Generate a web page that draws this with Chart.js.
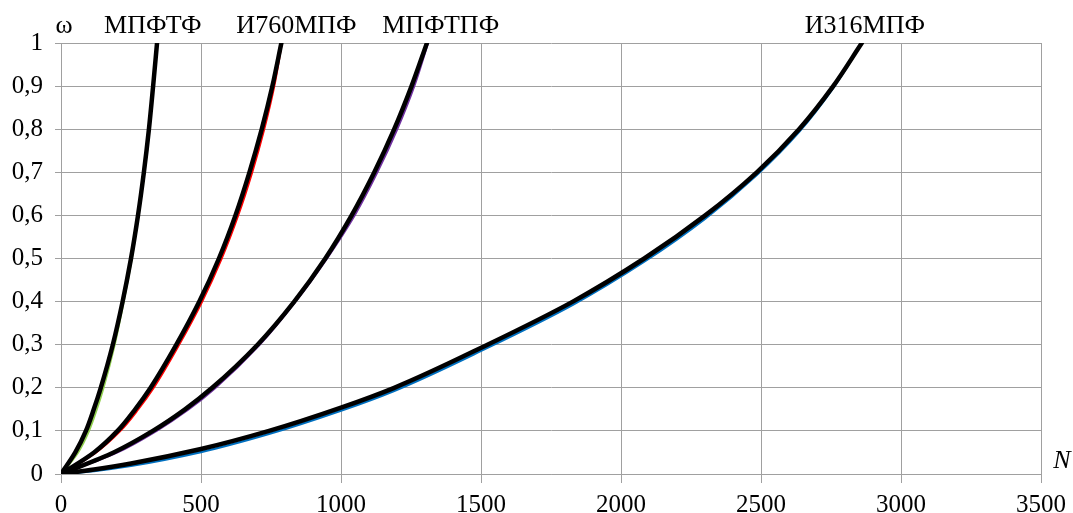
<!DOCTYPE html>
<html>
<head>
<meta charset="utf-8">
<script src="https://cdn.jsdelivr.net/npm/chart.js@4"></script>
<style>
  html, body { margin: 0; padding: 0; background: #fff; }
  #wrap { width: 1073px; height: 513px; }
</style>
</head>
<body>
<div id="wrap"><canvas id="c" width="1073" height="513"></canvas></div>
<script>
// ---- data ----
const xTickLabels = ['0', '500', '1000', '1500', '2000', '2500', '3000', '3500'];
const yTickLabels = ['0', '0,1', '0,2', '0,3', '0,4', '0,5', '0,6', '0,7', '0,8', '0,9', '1'];

const seriesNames = ['МПФТФ', 'И760МПФ', 'МПФТПФ', 'И316МПФ'];

// ω levels used for the three steep curves
const omegaLevels = [0, 0.05, 0.1, 0.15, 0.2, 0.3, 0.4, 0.5, 0.6, 0.7, 0.8, 0.9, 1.0];

// black (fitted) curves: N read at each ω level
const mpftfN  = [0, 51, 89, 117, 142, 185, 220, 250, 275, 296, 314, 329, 343];
const i760N   = [0, 118, 202, 265, 320, 412, 494, 564, 623, 673, 717, 755, 787];
const mpftpfN = [0, 188, 328, 443, 540, 702, 833, 944, 1038, 1119, 1190, 1252, 1307];

// shallow curve: own N and ω readings
const i316N   = [0, 118, 250, 500, 743, 1000, 1190, 1523, 1828, 2083, 2301, 2485, 2636, 2758, 2860];
const i316W   = [0, 0.0104, 0.0244, 0.058, 0.1, 0.154, 0.2, 0.3, 0.4, 0.5, 0.6, 0.7, 0.8, 0.9, 1.0];

// coloured (measured) curves lying just beside the black ones
const mpftfN2  = [0, 60, 99, 127, 151, 191, 223, 252, 276, 297, 315, 329, 343];
const i760N2   = [0, 124, 211, 275, 330, 421, 503, 573, 632, 682, 725, 761, 788];
const mpftpfN2 = [0, 200, 340, 455, 551, 709, 837, 949, 1048, 1129, 1200, 1261, 1310];
const i316W2   = [0, 0.0072, 0.0190, 0.051, 0.093, 0.147, 0.193, 0.293, 0.393, 0.493, 0.593, 0.694, 0.794, 0.896, 1.0];

const colours = ['#92d050', '#ff0000', '#7030a0', '#0070c0'];

// label anchors (N positions of the curve names along the top)
const topLabelN = [328, 841, 1356, 2871];
const yAxisTitle = 'ω';
const xAxisTitle = 'N';

// ---- build datasets ----
function pts(ns, ws) { return ns.map((n, i) => ({ x: n, y: ws[i] })); }
const blackSets = [
  pts(mpftfN, omegaLevels), pts(i760N, omegaLevels), pts(mpftpfN, omegaLevels), pts(i316N, i316W)
];
const colourSets = [
  pts(mpftfN2, omegaLevels), pts(i760N2, omegaLevels), pts(mpftpfN2, omegaLevels), pts(i316N, i316W2)
];

const datasets = [];
blackSets.forEach((d, i) => datasets.push({
  label: seriesNames[i], data: d, borderColor: '#000', borderWidth: 4.5,
  pointRadius: 0, cubicInterpolationMode: 'monotone', order: 0, borderCapStyle: 'round'
}));
colourSets.forEach((d, i) => datasets.push({
  label: seriesNames[i] + ' (2)', data: d, borderColor: colours[i], borderWidth: 2.5,
  pointRadius: 0, cubicInterpolationMode: 'monotone', order: 1
}));

const FONT = 'Liberation Serif, Times New Roman, serif';

const labelPlugin = {
  id: 'labels',
  afterDraw(chart) {
    const ctx = chart.ctx;
    const xs = chart.scales.x;
    ctx.save();
    ctx.fillStyle = '#000';
    ctx.textBaseline = 'alphabetic';
    ctx.textAlign = 'center';
    ctx.font = '26px ' + FONT;
    topLabelN.forEach((n, i) => {
      ctx.fillText(seriesNames[i], xs.getPixelForValue(n), 33);
    });
    ctx.fillText(yAxisTitle, 64, 33);
    ctx.font = 'italic 26px ' + FONT;
    ctx.fillText(xAxisTitle, 1062, 468);
    ctx.restore();
  }
};

new Chart(document.getElementById('c'), {
  type: 'line',
  data: { datasets },
  options: {
    indexAxis: 'y',
    responsive: false,
    animation: false,
    devicePixelRatio: 1,
    layout: { padding: { top: 43, right: 30, left: 0, bottom: 0 } },
    plugins: { legend: { display: false }, tooltip: { enabled: false } },
    scales: {
      x: {
        type: 'linear', position: 'bottom', min: 0, max: 3500,
        afterFit(s) { s.height = 39; },
        ticks: {
          stepSize: 500, color: '#000', padding: 7,
          font: { family: FONT, size: 25 },
          callback: (v, i) => xTickLabels[i]
        },
        grid: { color: '#a0a0a0', lineWidth: 1, tickLength: 9 },
        border: { color: '#a0a0a0' }
      },
      y: {
        type: 'linear', position: 'left', min: 0, max: 1,
        afterFit(s) { s.width = 61; },
        ticks: {
          stepSize: 0.1, color: '#000', padding: 12,
          font: { family: FONT, size: 25 },
          callback: (v, i) => yTickLabels[i]
        },
        grid: { color: '#a0a0a0', lineWidth: 1, tickLength: 6 },
        border: { color: '#a0a0a0' }
      }
    }
  },
  plugins: [labelPlugin]
});
</script>
</body>
</html>
